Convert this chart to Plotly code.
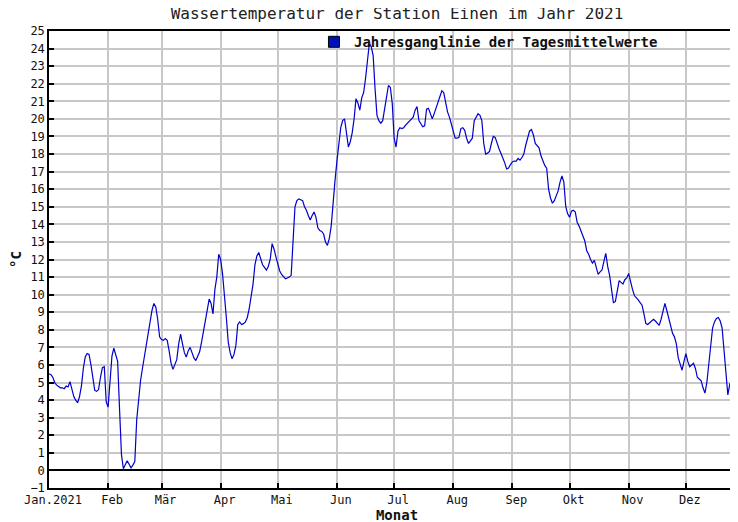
import plotly.graph_objects as go
import pandas as pd

# Daily mean water temperature (°C), starting 2021-01-01
temps = [
    5.5, 5.45, 5.3, 5.0, 4.85, 4.75, 4.7, 4.7, 4.65, 4.8,
    4.75, 5.05, 4.6, 4.2, 4.0, 3.85, 4.2, 4.8, 5.8, 6.45,
    6.65, 6.6, 6.0, 5.2, 4.55, 4.5, 4.6, 5.3, 5.85, 5.9,
    3.9, 3.6, 5.3, 6.5, 6.95, 6.6, 6.2, 3.5, 0.9, 0.1,
    0.35, 0.55, 0.35, 0.15, 0.3, 0.5, 2.9, 4.2, 5.1, 5.8,
    6.5, 7.1, 7.7, 8.4, 9.1, 9.5, 9.3, 8.6, 7.6, 7.45,
    7.4, 7.5, 7.4, 6.8, 6.1, 5.75, 6.0, 6.3, 7.2, 7.75,
    7.2, 6.7, 6.45, 6.8, 7.0, 6.7, 6.4, 6.25, 6.5, 6.75,
    7.3, 7.9, 8.6, 9.3, 9.75, 9.5, 8.9, 10.3, 11.0, 12.3,
    12.0, 11.2, 10.1, 8.7, 7.3, 6.7, 6.35, 6.6, 7.1, 8.3,
    8.45, 8.3, 8.35, 8.45, 8.7, 9.2, 9.9, 10.6, 11.7, 12.2,
    12.4, 12.0, 11.7, 11.55, 11.4, 11.6, 12.0, 12.9, 12.6, 12.15,
    11.8, 11.35, 11.15, 11.0, 10.9, 10.95, 11.0, 11.1, 12.8, 15.0,
    15.35, 15.45, 15.4, 15.35, 15.0, 14.8, 14.5, 14.25, 14.5, 14.7,
    14.4, 13.8, 13.65, 13.6, 13.45, 13.0, 12.8, 13.2, 13.9, 15.5,
    16.5, 17.6, 18.4, 19.5, 19.9, 20.0, 19.2, 18.4, 18.7, 19.2,
    20.0, 21.15, 20.9, 20.5, 21.2, 21.5, 22.3, 23.4, 24.3, 24.1,
    23.6, 21.7, 20.2, 19.9, 19.75, 19.9, 20.6, 21.3, 21.9, 21.8,
    20.9, 18.9, 18.4, 19.3, 19.5, 19.45, 19.5, 19.65, 19.75, 19.9,
    20.0, 20.1, 20.5, 20.7, 19.9, 19.7, 19.55, 19.6, 20.55, 20.6,
    20.3, 20.0, 20.3, 20.6, 20.9, 21.3, 21.6, 21.5, 20.9, 20.4,
    20.1, 19.6, 19.3, 18.9, 18.9, 18.95, 19.45, 19.5, 19.35, 18.9,
    18.6, 18.75, 18.9, 19.9, 20.15, 20.3, 20.2, 19.9, 18.6, 18.0,
    18.05, 18.15, 18.6, 19.0, 18.95, 18.6, 18.3, 18.05, 17.8, 17.5,
    17.15, 17.2, 17.4, 17.55, 17.6, 17.6, 17.75, 17.65, 17.8, 18.0,
    18.5, 19.0, 19.3, 19.4, 19.1, 18.6, 18.5, 18.35, 17.9, 17.6,
    17.35, 17.2, 16.0, 15.5, 15.2, 15.35, 15.6, 15.9, 16.4, 16.75,
    16.4, 15.0, 14.6, 14.4, 14.75, 14.8, 14.7, 14.1, 13.9, 13.6,
    13.25, 13.05, 12.5, 12.3, 12.0, 11.8, 11.95, 11.5, 11.15, 11.3,
    11.4, 11.9, 12.35, 11.6, 11.1, 10.3, 9.55, 9.6, 10.3, 10.8,
    10.7, 10.6, 10.85, 10.95, 11.2, 10.65, 10.3, 9.95, 9.85, 9.7,
    9.55, 9.4, 8.9, 8.35, 8.3, 8.4, 8.5, 8.6, 8.5, 8.35,
    8.25, 8.6, 9.1, 9.5, 9.1, 8.6, 8.1, 7.8, 7.6, 7.2,
    6.4, 6.0, 5.7, 6.2, 6.65, 6.2, 5.9, 6.0, 6.1, 5.8,
    5.3, 5.2, 5.1, 4.7, 4.4, 5.0, 6.0, 7.0, 8.1, 8.45,
    8.65, 8.7, 8.5, 8.1, 6.9, 5.3, 4.3, 4.9, 5.1, 3.8,
    2.95, 4.0, 5.1, 5.3, 5.0,
]
dates = pd.date_range("2021-01-01", periods=len(temps), freq="D")

month_starts = pd.date_range("2021-01-01", periods=12, freq="MS")
month_labels = ["Jan.2021", "Feb", "Mär", "Apr", "Mai", "Jun",
                "Jul", "Aug", "Sep", "Okt", "Nov", "Dez"]
y_ticks = list(range(-1, 26))

MONO = "DejaVu Sans Mono"

fig = go.Figure()
fig.add_trace(go.Scatter(
    x=dates, y=temps, mode="lines",
    line=dict(color="#0000cc", width=1.2),
    showlegend=False, hoverinfo="skip",
))
fig.add_trace(go.Scatter(
    x=[None], y=[None], mode="markers",
    marker=dict(symbol="square", size=11, color="#0010b8",
                line=dict(color="black", width=1)),
    name="<b>Jahresganglinie der Tagesmittelwerte</b>",
    showlegend=True,
))

fig.update_layout(
    width=738, height=522,
    margin=dict(l=41, r=1, t=23, b=42, autoexpand=False),
    paper_bgcolor="white", plot_bgcolor="white",
    font=dict(family=MONO, size=12, color="#111"),
    title=dict(text="Wassertemperatur der Station Einen im Jahr 2021",
               xref="paper", x=0.5, xanchor="center",
               yref="container", y=1 - 5 / 522, yanchor="middle",
               font=dict(family=MONO, size=16, color="#222")),
    showlegend=True,
    legend=dict(x=0.3807, y=1.0105, xanchor="left", yanchor="top",
                bgcolor="rgba(0,0,0,0)", borderwidth=0,
                itemwidth=30,
                font=dict(family=MONO, size=14, color="#111")),
)

fig.update_xaxes(
    type="date", automargin=False,
    range=["2021-01-01", "2022-01-01"],
    tickvals=month_starts, ticktext=month_labels,
    ticks="inside", ticklen=5, tickcolor="black", tickwidth=1.5,
    showgrid=True, gridcolor="#c8c8c8", gridwidth=1.5,
    showline=True, linecolor="black", linewidth=1.5, mirror=True,
    ticklabelshift=4,
    tickfont=dict(family=MONO, size=12, color="#111"),
    title=dict(text="<b>Monat</b>", standoff=0,
               font=dict(family=MONO, size=14, color="#111")),
    zeroline=False,
)
fig.update_yaxes(
    automargin=False,
    range=[-1, 25],
    tickvals=y_ticks,
    ticks="inside", ticklen=5, tickcolor="black", tickwidth=1.5,
    showgrid=True, gridcolor="#c8c8c8", gridwidth=1.5,
    showline=True, linecolor="black", linewidth=1.5, mirror=False,
    zeroline=True, zerolinecolor="black", zerolinewidth=1.5,
    tickfont=dict(family=MONO, size=12, color="#111"),
    title=dict(text="<b>°C</b>", standoff=8,
               font=dict(family=MONO, size=14, color="#111")),
)

fig.write_html("out.html")
